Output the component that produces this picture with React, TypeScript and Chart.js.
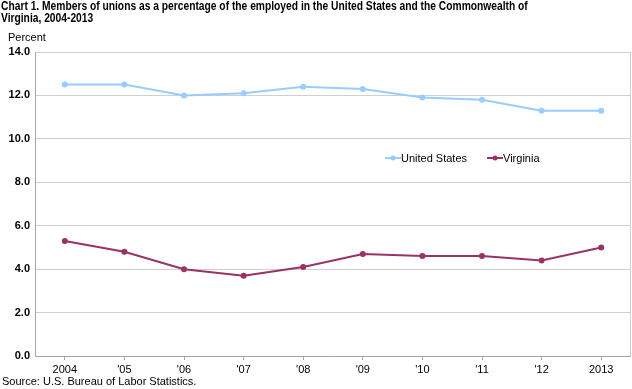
import React, { useEffect, useRef } from "react";
import { Chart, registerables } from "chart.js";

Chart.register(...registerables);

const categories = ["2004", "'05", "'06", "'07", "'08", "'09", "'10", "'11", "'12", "2013"];
const unitedStates = [12.5, 12.5, 12.0, 12.1, 12.4, 12.3, 11.9, 11.8, 11.3, 11.3];
const virginia = [5.3, 4.8, 4.0, 3.7, 4.1, 4.7, 4.6, 4.6, 4.4, 5.0];
const seriesNames = ["United States", "Virginia"];
const seriesColors = ["#99CCFF", "#993366"];

const FONT = "Arial, 'Liberation Sans', sans-serif";

const framePlugin = {
  id: "frame",
  beforeDatasetsDraw(chart: any) {
    const { ctx, chartArea } = chart;
    ctx.save();
    ctx.strokeStyle = "#D0D0D0";
    ctx.lineWidth = 1;
    ctx.strokeRect(chartArea.left + 0.5, chartArea.top + 0.5, chartArea.right - chartArea.left - 1, chartArea.bottom - chartArea.top);
    ctx.strokeStyle = "#A6A6A6";
    ctx.beginPath();
    ctx.moveTo(chartArea.left + 0.5, chartArea.top);
    ctx.lineTo(chartArea.left + 0.5, chartArea.bottom + 0.5);
    ctx.lineTo(chartArea.right, chartArea.bottom + 0.5);
    ctx.stroke();
    ctx.restore();
  },
};

const legendPlugin = {
  id: "insideLegend",
  afterDraw(chart: any) {
    const { ctx } = chart;
    ctx.save();
    ctx.font = "11px " + FONT;
    ctx.textBaseline = "middle";
    let x = 385;
    const y = 158;
    chart.data.datasets.forEach((ds: any) => {
      ctx.strokeStyle = ds.borderColor;
      ctx.fillStyle = ds.borderColor;
      ctx.lineWidth = 2;
      ctx.beginPath();
      ctx.moveTo(x, y);
      ctx.lineTo(x + 16, y);
      ctx.stroke();
      ctx.beginPath();
      ctx.arc(x + 8, y, 2.5, 0, Math.PI * 2);
      ctx.fill();
      ctx.fillStyle = "#000";
      ctx.fillText(ds.label, x + 16, y + 0.5);
      x += 16 + ctx.measureText(ds.label).width + 20;
    });
    ctx.restore();
  },
};

export default function App() {
  const canvasRef = useRef<HTMLCanvasElement | null>(null);

  useEffect(() => {
    if (!canvasRef.current) return;
    const chart = new Chart(canvasRef.current, {
      type: "line",
      data: {
        labels: categories,
        datasets: [unitedStates, virginia].map((d, i) => ({
          label: seriesNames[i],
          data: d,
          borderColor: seriesColors[i],
          backgroundColor: seriesColors[i],
          pointBackgroundColor: seriesColors[i],
          pointBorderColor: seriesColors[i],
          borderWidth: 2,
          pointRadius: 3,
          pointBorderWidth: 0,
          pointHoverRadius: 3,
          tension: 0,
        })),
      },
      options: {
        animation: false,
        responsive: false,
        maintainAspectRatio: false,
        layout: { autoPadding: false, padding: { top: 52, right: 1, bottom: 0, left: 0 } },
        plugins: {
          legend: { display: false },
          title: { display: false },
          tooltip: { enabled: false },
        },
        scales: {
          x: {
            type: "category",
            offset: true,
            grid: { drawOnChartArea: false, drawTicks: true, tickLength: 4, color: "#A6A6A6" },
            border: { display: false },
            ticks: { font: { family: FONT, size: 11 }, color: "#000", padding: 3, maxRotation: 0, autoSkip: false },
            afterFit(scale: any) {
              scale.height = 33;
              scale.paddingLeft = 0;
              scale.paddingRight = 0;
            },
          },
          y: {
            min: 0,
            max: 14,
            grid: { color: "#D0D0D0", drawTicks: false },
            border: { display: false },
            ticks: {
              stepSize: 2,
              font: { family: FONT, size: 11, weight: "bold" },
              color: "#000",
              padding: 5,
              callback: (v: any) => Number(v).toFixed(1),
            },
            afterFit(scale: any) {
              scale.width = 35;
              scale.paddingTop = 0;
              scale.paddingBottom = 0;
            },
          },
        },
      },
      plugins: [framePlugin, legendPlugin],
    });
    return () => chart.destroy();
  }, []);

  const titleStyle: React.CSSProperties = {
    position: "absolute",
    left: 1,
    top: 0,
    fontSize: 12,
    fontWeight: "bold",
    lineHeight: "12px",
    color: "#000",
    whiteSpace: "nowrap",
    transform: "scaleX(0.855)",
    transformOrigin: "0 0",
  };

  return (
    <div style={{ position: "absolute", left: 0, top: 0, width: 632, height: 389, background: "#fff", fontFamily: FONT, overflow: "hidden" }}>
      <canvas ref={canvasRef} width={632} height={389} style={{ position: "absolute", left: 0, top: 0 }} />
      <div style={titleStyle}>
        Chart 1. Members of unions as a percentage of the employed in the United States and the Commonwealth of
        <br />
        Virginia, 2004-2013
      </div>
      <div style={{ position: "absolute", left: 8, top: 31, fontSize: 11, color: "#000" }}>Percent</div>
      <div style={{ position: "absolute", left: 2, top: 375, fontSize: 11, color: "#000" }}>Source: U.S. Bureau of Labor Statistics.</div>
    </div>
  );
}
